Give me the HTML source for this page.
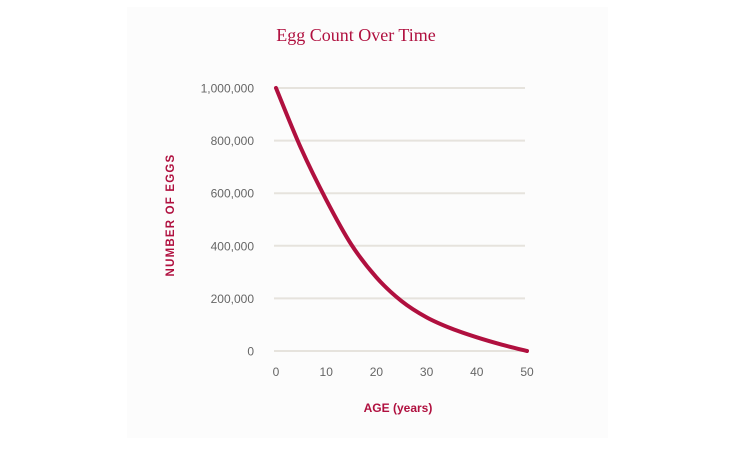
<!DOCTYPE html>
<html><head><meta charset="utf-8"><style>
body{margin:0;background:#fff;width:730px;height:445px;overflow:hidden;font-family:"Liberation Sans",sans-serif}
</style></head><body>
<svg width="730" height="445">
<rect x="127" y="7" width="481" height="431" fill="#fcfcfc"/>
<text x="356" y="41" text-anchor="middle" font-family="Liberation Serif, serif" font-size="18" fill="#b0103f">Egg Count Over Time</text>
<g id="grid"></g><g id="yt"></g><g id="xt"></g>
<path id="line" fill="none" stroke="#b0103f" stroke-width="4" stroke-linecap="round"/>
<text transform="translate(174,215) rotate(-90)" text-anchor="middle" font-size="11.5" letter-spacing="1.2" font-weight="bold" fill="#b0103f">NUMBER OF EGGS</text>
<text x="398" y="412" text-anchor="middle" font-size="12" font-weight="bold" fill="#b0103f">AGE (years)</text>
</svg>
<script>
const ages=[0,5,10,15,20,25,30,35,40,45,50];
const eggs=[1000000,770000,575000,405000,280000,190000,128000,85000,52000,24000,0];
const yTicks=[0,200000,400000,600000,800000,1000000];
const yLabels=["0","200,000","400,000","600,000","800,000","1,000,000"];
const xTicks=[0,10,20,30,40,50];
const X=v=>276+v*(527-276)/50, Y=v=>351-v*(351-88)/1000000;
const ns="http://www.w3.org/2000/svg";
const g=document.getElementById('grid'),yt=document.getElementById('yt'),xt=document.getElementById('xt');
yTicks.forEach((t,i)=>{
 const l=document.createElementNS(ns,'line');
 
 
 l.setAttribute('x1',274);l.setAttribute('x2',525);l.setAttribute('y1',Y(t));l.setAttribute('y2',Y(t));
 l.setAttribute('stroke','#e6e3dd');l.setAttribute('stroke-width','2');g.appendChild(l);
 const tx=document.createElementNS(ns,'text');
 
 
 tx.setAttribute('x',254);tx.setAttribute('y',Y(t)+4.5);tx.setAttribute('text-anchor','end');
 tx.setAttribute('font-size','12');tx.setAttribute('fill','#666');tx.textContent=yLabels[i];yt.appendChild(tx);
});
xTicks.forEach(t=>{
 const tx=document.createElementNS(ns,'text');
 
 
 tx.setAttribute('x',X(t));tx.setAttribute('y',376);tx.setAttribute('text-anchor','middle');
 tx.setAttribute('font-size','12');tx.setAttribute('fill','#666');tx.textContent=t;xt.appendChild(tx);
});
const pts=ages.map((a,i)=>[X(a),Y(eggs[i])]);
let d='M'+pts[0][0]+','+pts[0][1];
for(let i=0;i<pts.length-1;i++){
 const p0=pts[i-1]||pts[i],p1=pts[i],p2=pts[i+1],p3=pts[i+2]||p2;
 d+=' C'+(p1[0]+(p2[0]-p0[0])/6)+','+(p1[1]+(p2[1]-p0[1])/6)+' '+(p2[0]-(p3[0]-p1[0])/6)+','+(p2[1]-(p3[1]-p1[1])/6)+' '+p2[0]+','+p2[1];
}
document.getElementById('line').setAttribute('d',d);
</script>
</body></html>
